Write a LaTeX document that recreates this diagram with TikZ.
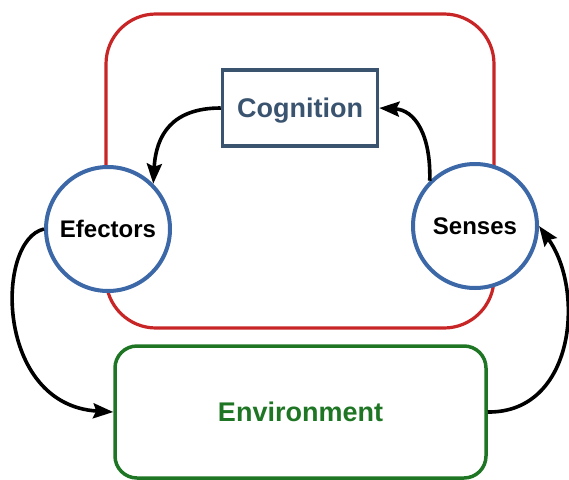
\documentclass[tikz,border=0pt]{standalone}
\usepackage{fontspec}
\setmainfont{Liberation Sans}
\usetikzlibrary{arrows.meta}
\definecolor{cogred}{RGB}{200,38,38}
\definecolor{cogslate}{RGB}{58,84,112}
\definecolor{circblue}{RGB}{60,104,168}
\definecolor{envgreen}{RGB}{30,118,36}
\tikzset{
  frame/.style={draw=cogred, line width=3.2pt, rounded corners=50pt},
  cogbox/.style={draw=cogslate, fill=white, line width=3.5pt, minimum width=155pt, minimum height=76pt, inner sep=0pt, text depth=0pt, text=cogslate, font=\fontsize{27}{30}\selectfont\bfseries},
  organ/.style={circle, draw=circblue, fill=white, line width=4pt, minimum size=124pt, inner sep=0pt, text depth=0pt, font=\fontsize{24}{27}\selectfont\bfseries},
  envbox/.style={draw=envgreen, fill=white, line width=3.5pt, rounded corners=22pt, minimum width=371pt, minimum height=132pt, inner sep=0pt, text depth=0pt, text=envgreen, font=\fontsize{27}{30}\selectfont\bfseries},
  flow/.style={line width=3.6pt, -{Stealth[length=20pt,width=15pt,inset=3pt]}}
}
\begin{document}
\begin{tikzpicture}[x=1pt, y=-1pt]
\useasboundingbox (0,0) rectangle (569,479);
% agent frame
\draw[frame] (106,14) rectangle (494,328);
% inner parts of the agent
\node[cogbox] (cog) at (300,108) {Cognition};
\node[organ] (ef) at (108,229) {Efectors};
\node[organ] (ss) at (475,226) {Senses};
% world outside the agent
\node[envbox] (env) at (300.5,412) {Environment};
% flows
\draw[flow] (cog.west) .. controls (172,108) and (156,135) .. (ef.45);
\draw[flow] (ss.135) .. controls (431,135) and (415,110) .. (cog.east);
\draw[flow] (ef.west) .. controls (-5,240) and (-5,405) .. (env.west);
\draw[flow] (env.east) .. controls (575,413) and (585,290) .. (ss.east);
\end{tikzpicture}
\end{document}
